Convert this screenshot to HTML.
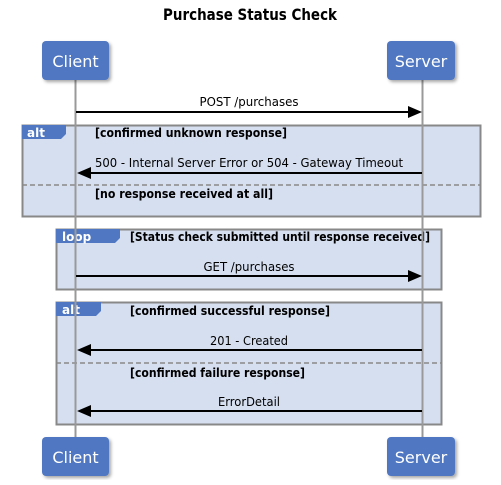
<!DOCTYPE html>
<html><head><meta charset="utf-8"><style>
body{margin:0;background:#fff;}
</style></head><body>
<svg width="501" height="480" viewBox="0 0 501 480" font-family="DejaVu Sans, Liberation Sans, sans-serif">
<defs>
<filter id="sh" x="-20%" y="-20%" width="150%" height="150%"><feDropShadow dx="2" dy="2" stdDeviation="1.5" flood-color="#000" flood-opacity="0.35"/></filter>
</defs>
<text x="163" y="20" font-size="16" font-weight="bold" textLength="174" lengthAdjust="spacingAndGlyphs">Purchase Status Check</text>

<!-- alt1 -->
<rect x="22.5" y="125.5" width="458" height="91" fill="#d6dff0" stroke="#888" stroke-width="2"/>
<path d="M22 125 H66 V134 L61 139 H22 Z" fill="#4f77c2"/>
<text x="27" y="137" font-size="12" font-weight="bold" fill="#fff">alt</text>
<text x="95" y="137" font-size="12" font-weight="bold" textLength="192" lengthAdjust="spacingAndGlyphs">[confirmed unknown response]</text>
<line x1="22" y1="185" x2="481" y2="185" stroke="#888" stroke-width="1.5" stroke-dasharray="5,3"/>
<text x="95" y="198" font-size="12" font-weight="bold" textLength="178" lengthAdjust="spacingAndGlyphs">[no response received at all]</text>

<!-- loop -->
<rect x="56.5" y="229.5" width="385" height="60" fill="#d6dff0" stroke="#888" stroke-width="2"/>
<path d="M56 229 H120 V238 L115 243 H56 Z" fill="#4f77c2"/>
<text x="62" y="241" font-size="12" font-weight="bold" fill="#fff">loop</text>
<text x="130" y="241" font-size="12" font-weight="bold" textLength="300" lengthAdjust="spacingAndGlyphs">[Status check submitted until response received]</text>

<!-- alt2 -->
<rect x="56.5" y="302.5" width="385" height="122" fill="#d6dff0" stroke="#888" stroke-width="2"/>
<path d="M56 302 H101 V311 L96 316 H56 Z" fill="#4f77c2"/>
<text x="62" y="314" font-size="12" font-weight="bold" fill="#fff">alt</text>
<text x="130" y="315" font-size="12" font-weight="bold" textLength="200" lengthAdjust="spacingAndGlyphs">[confirmed successful response]</text>
<line x1="56" y1="363" x2="442" y2="363" stroke="#888" stroke-width="1.5" stroke-dasharray="5,3"/>
<text x="130" y="377" font-size="12" font-weight="bold" textLength="175" lengthAdjust="spacingAndGlyphs">[confirmed failure response]</text>

<!-- lifelines -->
<line x1="75.5" y1="80" x2="75.5" y2="438" stroke="#999" stroke-width="2"/>
<line x1="422.5" y1="80" x2="422.5" y2="438" stroke="#999" stroke-width="2"/>

<!-- messages -->
<text x="249" y="106" text-anchor="middle" font-size="12" textLength="99" lengthAdjust="spacingAndGlyphs">POST /purchases</text>
<line x1="76" y1="112" x2="410" y2="112" stroke="#000" stroke-width="2"/>
<path d="M422 112 L408 106 V118 Z"/>

<text x="95" y="167" font-size="12" textLength="308" lengthAdjust="spacingAndGlyphs">500 - Internal Server Error or 504 - Gateway Timeout</text>
<line x1="88" y1="173" x2="422" y2="173" stroke="#000" stroke-width="2"/>
<path d="M77 173 L91 167 V179 Z"/>

<text x="249" y="271" text-anchor="middle" font-size="12" textLength="91" lengthAdjust="spacingAndGlyphs">GET /purchases</text>
<line x1="76" y1="276" x2="410" y2="276" stroke="#000" stroke-width="2"/>
<path d="M422 276 L408 270 V282 Z"/>

<text x="249" y="345" text-anchor="middle" font-size="12" textLength="78" lengthAdjust="spacingAndGlyphs">201 - Created</text>
<line x1="88" y1="350" x2="422" y2="350" stroke="#000" stroke-width="2"/>
<path d="M77 350 L91 344 V356 Z"/>

<text x="249" y="406" text-anchor="middle" font-size="12" textLength="62" lengthAdjust="spacingAndGlyphs">ErrorDetail</text>
<line x1="88" y1="411" x2="422" y2="411" stroke="#000" stroke-width="2"/>
<path d="M77 411 L91 405 V417 Z"/>

<!-- participants -->
<g filter="url(#sh)">
<rect x="42" y="41" width="67" height="39" rx="4" fill="#4f77c2"/>
<rect x="387" y="41" width="68" height="39" rx="4" fill="#4f77c2"/>
<rect x="42" y="437" width="67" height="39" rx="4" fill="#4f77c2"/>
<rect x="387" y="437" width="68" height="39" rx="4" fill="#4f77c2"/>
</g>
<text x="75.5" y="67" text-anchor="middle" font-size="16" fill="#fff">Client</text>
<text x="421" y="67" text-anchor="middle" font-size="16" fill="#fff">Server</text>
<text x="75.5" y="463" text-anchor="middle" font-size="16" fill="#fff">Client</text>
<text x="421" y="463" text-anchor="middle" font-size="16" fill="#fff">Server</text>
</svg>
</body></html>
